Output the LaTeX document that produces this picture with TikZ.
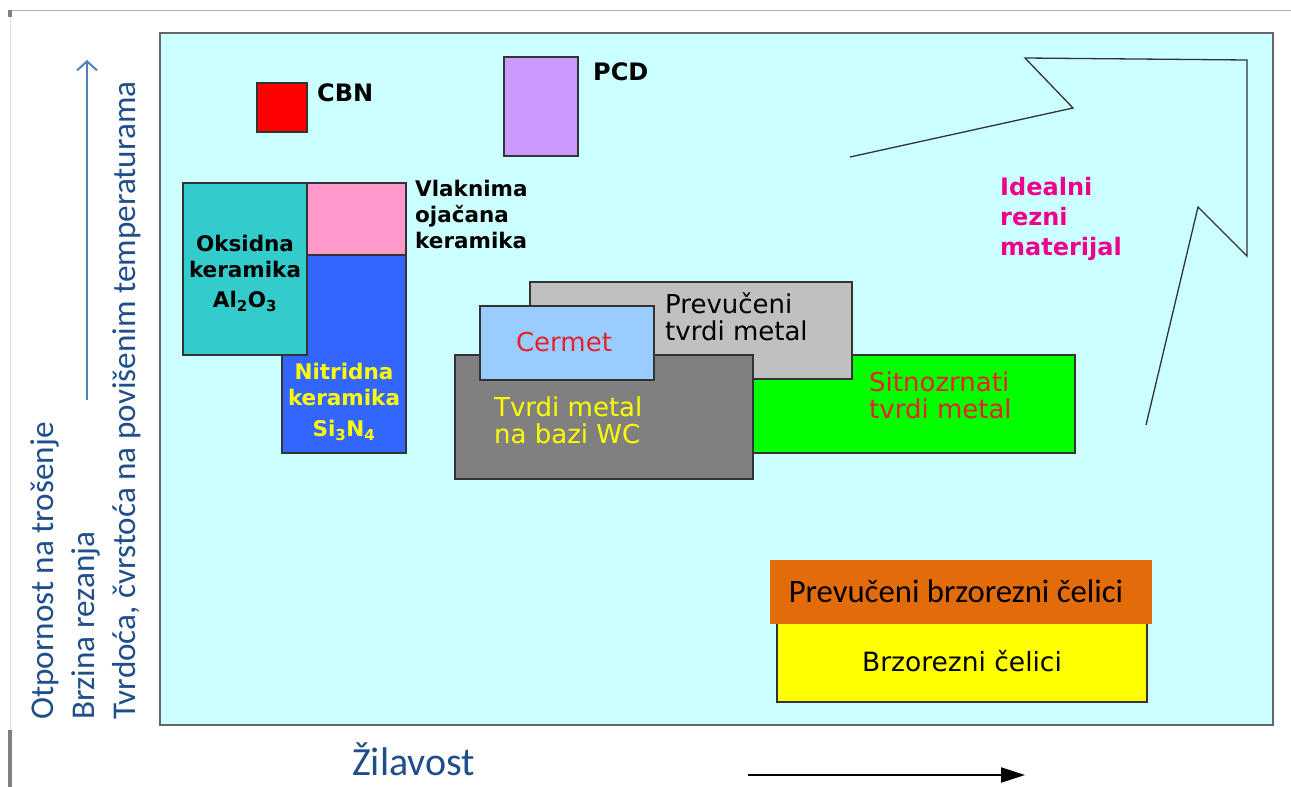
\documentclass[tikz,border=0pt]{standalone}
\usepackage{fontspec}
\setmainfont{DejaVu Sans}
\newfontfamily\califont{Carlito}
\usetikzlibrary{arrows.meta,positioning}

\definecolor{bgcyan}{HTML}{CCFFFF}
\definecolor{oxteal}{HTML}{33CCCC}
\definecolor{fibpink}{HTML}{FF99CC}
\definecolor{nitblue}{HTML}{3366FF}
\definecolor{cbnred}{HTML}{FF0000}
\definecolor{pcdlilac}{HTML}{CC99FF}
\definecolor{coated}{HTML}{C0C0C0}
\definecolor{cermetblue}{HTML}{99CCFF}
\definecolor{wcgray}{HTML}{808080}
\definecolor{finegreen}{HTML}{00FF00}
\definecolor{hssorange}{HTML}{E36C0A}
\definecolor{hssyellow}{HTML}{FFFF00}
\definecolor{axisblue}{HTML}{1F4E8A}
\definecolor{arrowblue}{HTML}{4F81BD}
\definecolor{idealpink}{HTML}{EC008C}
\definecolor{txtred}{HTML}{E8202A}

\tikzset{
  box/.style={draw=black!80, line width=1.5pt},
  bold/.style={inner sep=0pt, font=\bfseries\fontsize{24}{30}\selectfont, align=left},
  boldsmall/.style={inner sep=0pt, font=\bfseries\fontsize{21.5}{26}\selectfont},
  plain/.style={inner sep=0pt, font=\fontsize{26}{27}\selectfont, align=left},
  axistext/.style={inner sep=0pt, text=axisblue, font=\califont\fontsize{33.2}{36}\selectfont}
}

\begin{document}
\begin{tikzpicture}[x=1pt,y=-1pt]
  \useasboundingbox (0,0) rectangle (1291,787);
  % slide frame
  \draw[gray!60] (8,10) -- (1291,10);
  \draw[gray!25] (10,10) -- (10,787);
  \fill[gray] (8,10) rectangle (12,17);
  \fill[gray] (8,730) rectangle (12,787);
  % chart area
  \draw[fill=bgcyan, draw=black!60, line width=1.5pt] (160,33) rectangle (1273,725);

  % ceramics, CBN, PCD
  \draw[box, fill=nitblue] (282,255) rectangle (406,453);
  \draw[box, fill=oxteal] (183,183) rectangle (307,355);
  \draw[box, fill=fibpink] (307,183) rectangle (406,255);
  \draw[box, fill=cbnred] (257,83) rectangle (307,132);
  \draw[box, fill=pcdlilac] (504,57) rectangle (578,156);

  % hard metals
  \draw[box, fill=finegreen] (752,355) rectangle (1075,453);
  \draw[box, fill=coated] (530,282) rectangle (852,379);
  \draw[box, fill=wcgray] (455,355) rectangle (753,479);
  \draw[box, fill=cermetblue] (480,306) rectangle (654,380);

  % high speed steels
  \draw[box, fill=hssyellow] (777,622) rectangle (1147,702);
  \fill[hssorange] (770,560) rectangle (1152,624);

  % ideal material arrow
  \draw[black!80, line width=1.3pt] (850,157) -- (1073,108) -- (1025,58) -- (1247,60)
    -- (1247,256) -- (1198,207) -- (1146,425);

  % labels
  \node[bold, anchor=north west] (cbn) at (317,83) {CBN};
  \node[bold, anchor=north west] (pcd) at (593,62) {PCD};
  \node[boldsmall, align=left, anchor=north west] (fibre) at (415,180) {Vlaknima\\ojačana\\keramika};
  \node[boldsmall, align=center, anchor=north] (oxide) at (245,235) {Oksidna\\keramika\\[4pt]Al\textsubscript{2}O\textsubscript{3}};
  \node[boldsmall, align=center, anchor=north, text=hssyellow] (nitride) at (344,363) {Nitridna\\keramika\\[5pt]Si\textsubscript{3}N\textsubscript{4}};

  \node[plain, anchor=north west] (coatedhm) at (665,293) {Prevučeni\\tvrdi metal};
  \node[plain, anchor=north, text=txtred] (cermet) at (564,332) {Cermet};
  \node[plain, anchor=north west, text=hssyellow] (wc) at (494,397) {Tvrdi metal\\na bazi WC};
  \node[plain, anchor=north west, text=txtred] (fine) at (869,372) {Sitnozrnati\\tvrdi metal};
  \node[bold, anchor=north west, text=idealpink] (ideal) at (1000,177) {Idealni\\rezni\\materijal};

  \node[inner sep=0pt, anchor=north, font=\califont\fontsize{32.7}{36}\selectfont] (coatedhss) at (956,580) {Prevučeni brzorezni čelici};
  \node[inner sep=0pt, anchor=north, font=\fontsize{26.5}{30}\selectfont] (hss) at (962,650) {Brzorezni čelici};

  % axes
  \node[axistext, rotate=90, anchor=base west] (wear) at (53,720) {Otpornost na trošenje};
  \node[axistext, rotate=90, anchor=base west] (speed) at (94,720) {Brzina rezanja};
  \node[axistext, rotate=90, anchor=base west] (hard) at (135,720) {Tvrdoća, čvrstoća na povišenim temperaturama};
  \coordinate (ybot) at (87,400);
  \coordinate (ytop) at (87,60);
  \draw[arrowblue, line width=2pt, -{Straight Barb[length=9pt,width=20pt]}] (ybot) -- (ytop);

  \node[axistext, anchor=base west, font=\califont\fontsize{40}{44}\selectfont] (tough) at (352,775) {Žilavost};
  \coordinate (xleft) at (748,775);
  \coordinate (xright) at (1025,775);
  \draw[line width=2pt, -{Triangle[length=24pt,width=15pt]}] (xleft) -- (xright);
\end{tikzpicture}
\end{document}
